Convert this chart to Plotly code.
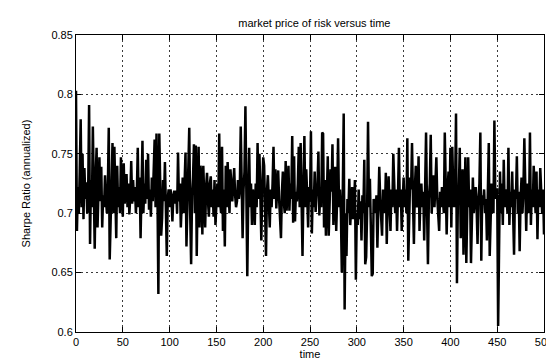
import plotly.graph_objects as go

sharpe = [
0.803, 0.685, 0.722, 0.700, 0.735, 0.779, 0.705, 0.750, 0.695, 0.738,
0.712, 0.726, 0.700, 0.718, 0.791, 0.674, 0.728, 0.705, 0.773, 0.690,
0.670, 0.730, 0.755, 0.688, 0.720, 0.747, 0.710, 0.739, 0.688, 0.715,
0.705, 0.732, 0.712, 0.700, 0.720, 0.772, 0.661, 0.712, 0.725, 0.759,
0.700, 0.756, 0.715, 0.679, 0.740, 0.705, 0.722, 0.700, 0.747, 0.712,
0.697, 0.742, 0.708, 0.720, 0.733, 0.705, 0.725, 0.699, 0.715, 0.744,
0.708, 0.728, 0.710, 0.722, 0.700, 0.718, 0.755, 0.705, 0.730, 0.679,
0.712, 0.761, 0.700, 0.725, 0.708, 0.745, 0.712, 0.750, 0.703, 0.720,
0.697, 0.730, 0.710, 0.743, 0.762, 0.705, 0.767, 0.720, 0.632, 0.767,
0.720, 0.681, 0.696, 0.728, 0.710, 0.743, 0.705, 0.664, 0.712, 0.720,
0.705, 0.720, 0.712, 0.693, 0.715, 0.719, 0.708, 0.719, 0.700, 0.751,
0.710, 0.725, 0.688, 0.715, 0.730, 0.700, 0.720, 0.751, 0.672, 0.712,
0.735, 0.772, 0.700, 0.657, 0.715, 0.730, 0.758, 0.700, 0.757, 0.664,
0.720, 0.756, 0.688, 0.740, 0.730, 0.682, 0.740, 0.700, 0.688, 0.722,
0.734, 0.710, 0.697, 0.725, 0.731, 0.705, 0.720, 0.697, 0.728, 0.690,
0.715, 0.725, 0.705, 0.767, 0.710, 0.700, 0.756, 0.685, 0.720, 0.672,
0.740, 0.705, 0.743, 0.712, 0.700, 0.737, 0.720, 0.710, 0.725, 0.738,
0.715, 0.705, 0.710, 0.728, 0.712, 0.720, 0.773, 0.705, 0.679, 0.720,
0.735, 0.790, 0.679, 0.647, 0.712, 0.755, 0.705, 0.725, 0.690, 0.720,
0.712, 0.690, 0.725, 0.705, 0.759, 0.712, 0.750, 0.700, 0.677, 0.720,
0.747, 0.740, 0.705, 0.664, 0.718, 0.732, 0.710, 0.688, 0.720, 0.705,
0.725, 0.756, 0.712, 0.737, 0.704, 0.720, 0.736, 0.712, 0.700, 0.679,
0.718, 0.735, 0.710, 0.700, 0.744, 0.702, 0.720, 0.740, 0.702, 0.725,
0.712, 0.765, 0.692, 0.748, 0.693, 0.718, 0.710, 0.725, 0.756, 0.705,
0.759, 0.712, 0.664, 0.720, 0.765, 0.705, 0.737, 0.715, 0.688, 0.722,
0.710, 0.769, 0.683, 0.720, 0.705, 0.735, 0.701, 0.715, 0.725, 0.752,
0.698, 0.720, 0.705, 0.768, 0.767, 0.688, 0.728, 0.681, 0.712, 0.748,
0.681, 0.715, 0.737, 0.718, 0.758, 0.690, 0.720, 0.739, 0.685, 0.712,
0.763, 0.705, 0.720, 0.700, 0.650, 0.712, 0.784, 0.619, 0.700, 0.664,
0.712, 0.700, 0.729, 0.690, 0.712, 0.722, 0.695, 0.705, 0.728, 0.644,
0.700, 0.690, 0.720, 0.695, 0.710, 0.677, 0.715, 0.700, 0.745, 0.657,
0.663, 0.700, 0.777, 0.705, 0.729, 0.690, 0.647, 0.649, 0.712, 0.706,
0.700, 0.715, 0.671, 0.705, 0.739, 0.712, 0.700, 0.681, 0.720, 0.710,
0.700, 0.734, 0.674, 0.712, 0.731, 0.705, 0.685, 0.720, 0.705, 0.750,
0.712, 0.700, 0.720, 0.685, 0.715, 0.755, 0.705, 0.720, 0.685, 0.712,
0.730, 0.705, 0.720, 0.700, 0.763, 0.660, 0.712, 0.730, 0.720, 0.759,
0.712, 0.674, 0.720, 0.740, 0.705, 0.712, 0.748, 0.685, 0.712, 0.725,
0.705, 0.718, 0.677, 0.712, 0.768, 0.705, 0.657, 0.712, 0.725, 0.766,
0.700, 0.718, 0.732, 0.705, 0.720, 0.747, 0.712, 0.700, 0.685, 0.718,
0.705, 0.722, 0.710, 0.700, 0.768, 0.712, 0.682, 0.720, 0.735, 0.705,
0.755, 0.688, 0.756, 0.722, 0.705, 0.720, 0.784, 0.641, 0.712, 0.720,
0.755, 0.679, 0.715, 0.737, 0.665, 0.705, 0.747, 0.658, 0.712, 0.747,
0.705, 0.720, 0.658, 0.712, 0.730, 0.700, 0.710, 0.722, 0.705, 0.674,
0.712, 0.725, 0.768, 0.660, 0.715, 0.707, 0.720, 0.700, 0.712, 0.677,
0.718, 0.759, 0.664, 0.712, 0.725, 0.707, 0.700, 0.778, 0.712, 0.720,
0.720, 0.605, 0.712, 0.735, 0.700, 0.725, 0.690, 0.745, 0.705, 0.720,
0.712, 0.700, 0.755, 0.690, 0.718, 0.705, 0.735, 0.700, 0.665, 0.720,
0.712, 0.748, 0.700, 0.718, 0.668, 0.712, 0.730, 0.700, 0.720, 0.763,
0.705, 0.685, 0.725, 0.712, 0.700, 0.768, 0.690, 0.720, 0.705, 0.740,
0.712, 0.700, 0.735, 0.678, 0.720, 0.705, 0.738, 0.712, 0.700, 0.720,
0.682,
]
time = list(range(len(sharpe)))

x_ticks = [0, 50, 100, 150, 200, 250, 300, 350, 400, 450, 500]
y_ticks = [0.6, 0.65, 0.7, 0.75, 0.8, 0.85]
y_tick_labels = ["0.6", "0.65", "0.7", "0.75", "0.8", "0.85"]

FONT = "Liberation Sans, Arial, sans-serif"

fig = go.Figure()
fig.add_trace(go.Scatter(x=time, y=sharpe, mode="lines",
                         line=dict(color="black", width=2.5),
                         showlegend=False, hoverinfo="skip"))

axis_common = dict(
    showline=True, linecolor="black", linewidth=1, mirror="ticks",
    ticks="inside", ticklen=5, tickcolor="black",
    showgrid=True, gridcolor="#3a3a3a", gridwidth=1, griddash="2px,3px",
    zeroline=False, tickfont=dict(family=FONT, size=11, color="black"),
)

fig.update_layout(
    width=554, height=359,
    margin=dict(l=68, r=9, t=27, b=30),
    paper_bgcolor="white", plot_bgcolor="white",
    title=dict(text="market price of risk versus time", x=0.553, xanchor="center",
               y=0.958, yanchor="middle",
               font=dict(family=FONT, size=11, color="black")),
    xaxis=dict(range=[0, 500], tickvals=x_ticks,
               title=dict(text="time", standoff=2,
                          font=dict(family=FONT, size=11, color="black")),
               **axis_common),
    yaxis=dict(range=[0.6, 0.85], tickvals=y_ticks, ticktext=y_tick_labels,
               title=dict(text="Sharpe Ratio (annualized)", standoff=18,
                          font=dict(family=FONT, size=11, color="black")),
               **axis_common),
)

fig.write_html("out.html")
